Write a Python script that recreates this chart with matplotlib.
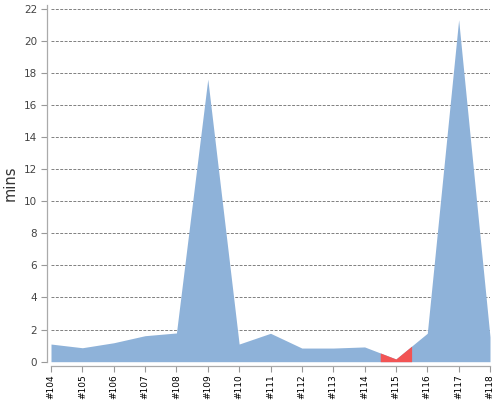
import numpy as np
import matplotlib
matplotlib.use("Agg")
import matplotlib.pyplot as plt

builds = ["#104", "#105", "#106", "#107", "#108", "#109", "#110", "#111",
          "#112", "#113", "#114", "#115", "#116", "#117", "#118"]
minutes = [1.10, 0.87, 1.18, 1.62, 1.79, 17.6, 1.10, 1.77,
           0.85, 0.85, 0.92, 0.17, 1.77, 21.3, 1.55]
status = ["ok", "ok", "ok", "ok", "ok", "ok", "ok", "ok",
          "ok", "ok", "ok", "fail", "ok", "ok", "ok"]
yticks = [0, 2, 4, 6, 8, 10, 12, 14, 16, 18, 20, 22]

colors = {"ok": "#8EB2D9", "fail": "#F25454"}

fig = plt.figure(figsize=(5, 4), dpi=100)
ax = fig.add_axes([51 / 500, (400 - 361.7) / 400, (490 - 51) / 500, (361.7 - 5) / 400])

for s in ["top", "right"]:
    ax.spines[s].set_visible(False)
for s in ["left", "bottom"]:
    ax.spines[s].set_color("#aaaaaa")
    ax.spines[s].set_position(("outward", 3))
    ax.spines[s].set_linewidth(0.9)

x = np.arange(len(builds))
y = np.array(minutes, dtype=float)
n = len(x)

# whole curve in the success colour
ax.fill_between(x, 0, y, color=colors["ok"], linewidth=0, zorder=2)
# per-build overlays for non-success builds
for i in range(n):
    if status[i] == "ok":
        continue
    left = max(i - 0.5, 0)
    right = min(i + 0.5, n - 1)
    xs = np.array([left, i, right])
    ys = np.interp(xs, x, y)
    ax.fill_between(xs, 0, ys, color=colors[status[i]], linewidth=0, zorder=3)

ax.set_xlim(0, n - 1)
ax.set_ylim(0, 22.22)
ax.set_yticks(yticks)
ax.set_xticks(x)
ax.set_xticklabels(builds)
ax.tick_params(axis="y", labelsize=7.5, labelcolor="#444444", color="#999999",
               length=4.5, pad=2.5)
ax.tick_params(axis="x", labelsize=6.5, labelcolor="black", labelrotation=90,
               color="#999999", length=4, pad=2)

ax.grid(axis="y", color="#808080", linestyle=(0, (3, 1.5)), linewidth=0.7, zorder=1)
ax.set_axisbelow(True)

ax.set_ylabel("mins", fontsize=10.5, color="#333333")
ax.yaxis.set_label_coords(-0.075, 0.5)

fig.savefig("out.png", dpi=100)
